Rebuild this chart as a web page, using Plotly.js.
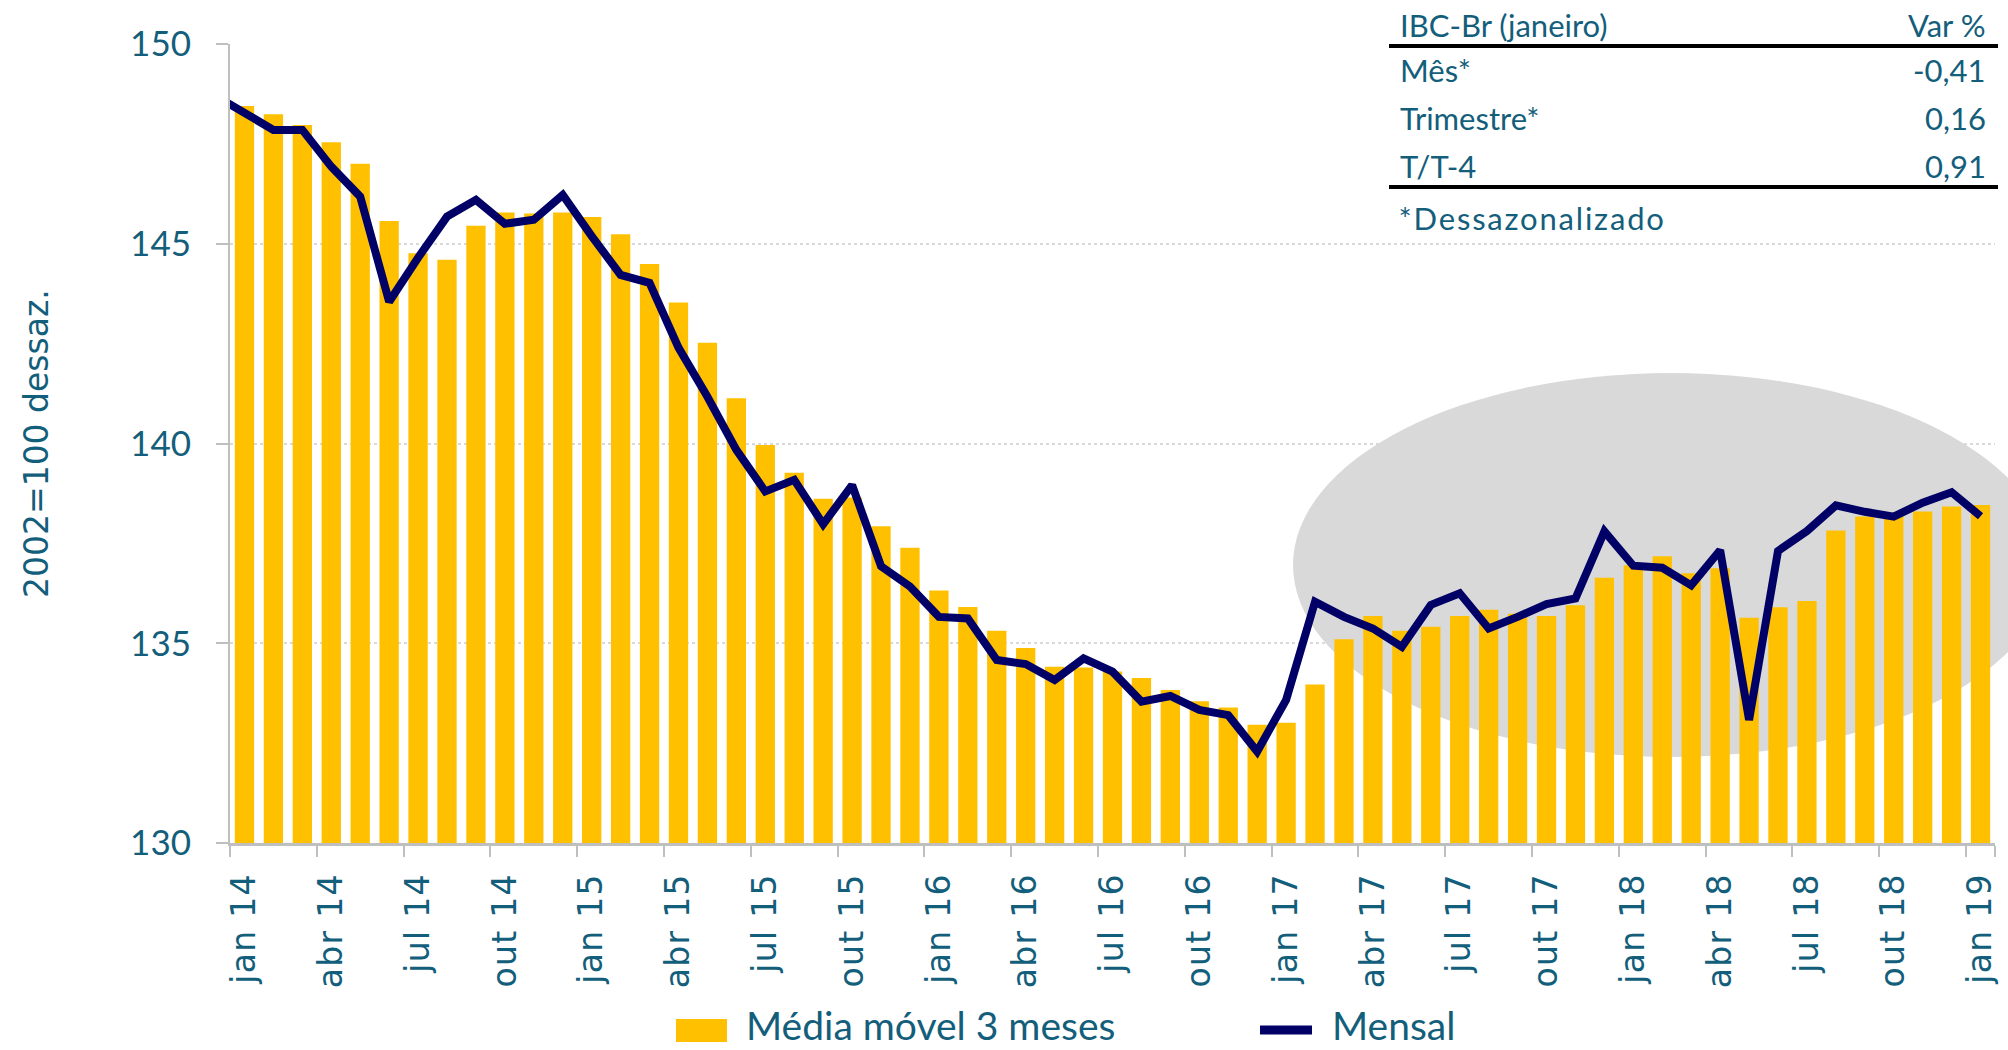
<!DOCTYPE html>
<html>
<head>
<meta charset="utf-8">
<script src="https://cdn.plot.ly/plotly-3.0.1.min.js"></script>
<style>
html, body { margin: 0; padding: 0; background: #ffffff; }
#chart { width: 2008px; height: 1050px; }
.xtick text { letter-spacing: 1.3px; }
.annotation[data-index="8"] text { letter-spacing: 1.8px; }
</style>
</head>
<body>
<div id="chart"></div>
<script>
// Months (line series starts one month before the visible window)
const months = [
  'dez 13',
  'jan 14','fev 14','mar 14','abr 14','mai 14','jun 14','jul 14','ago 14','set 14','out 14','nov 14','dez 14',
  'jan 15','fev 15','mar 15','abr 15','mai 15','jun 15','jul 15','ago 15','set 15','out 15','nov 15','dez 15',
  'jan 16','fev 16','mar 16','abr 16','mai 16','jun 16','jul 16','ago 16','set 16','out 16','nov 16','dez 16',
  'jan 17','fev 17','mar 17','abr 17','mai 17','jun 17','jul 17','ago 17','set 17','out 17','nov 17','dez 17',
  'jan 18','fev 18','mar 18','abr 18','mai 18','jun 18','jul 18','ago 18','set 18','out 18','nov 18','dez 18',
  'jan 19'
];

// Mensal (IBC-Br, 2002=100, dessaz.)
const mensal = [
  148.7,
  148.28, 147.85, 147.85, 146.93, 146.18, 143.55, 144.65, 145.68, 146.10, 145.50, 145.60, 146.22,
  145.19, 144.22, 144.02, 142.40, 141.17, 139.84, 138.80, 139.09, 137.98, 138.96, 136.93, 136.42,
  135.66, 135.62, 134.58, 134.48, 134.08, 134.62, 134.29, 133.54, 133.68, 133.33, 133.20, 132.29,
  133.58, 136.04, 135.66, 135.37, 134.91, 135.96, 136.25, 135.37, 135.66, 135.98, 136.12, 137.80,
  136.94, 136.89, 136.45, 137.33, 133.08, 137.31, 137.81, 138.45, 138.29, 138.17, 138.52, 138.78,
  138.18
];

// Média móvel 3 meses (jan 14 .. jan 19)
const barMonths = months.slice(1);
const mediaMovel = [
  148.45, 148.24, 147.97, 147.54, 147.00, 145.57, 144.76, 144.60, 145.45, 145.78, 145.76, 145.78,
  145.67, 145.24, 144.49, 143.53, 142.52, 141.13, 139.96, 139.27, 138.62, 138.65, 137.93, 137.39,
  136.32, 135.91, 135.31, 134.88, 134.41, 134.39, 134.29, 134.13, 133.83, 133.55, 133.39, 132.96,
  133.01, 133.97, 135.10, 135.68, 135.31, 135.41, 135.68, 135.84, 135.74, 135.68, 135.95, 136.64,
  136.95, 137.18, 136.75, 136.88, 135.64, 135.90, 136.06, 137.82, 138.17, 138.20, 138.30, 138.42,
  138.46
];

// Tick labels on the x axis
const tickLabels = [
  'jan 14','abr 14','jul 14','out 14','jan 15','abr 15','jul 15','out 15',
  'jan 16','abr 16','jul 16','out 16','jan 17','abr 17','jul 17','out 17',
  'jan 18','abr 18','jul 18','out 18','jan 19'
];
const yTicks = [130, 135, 140, 145, 150];

// Summary table
const tableHeader = ['IBC-Br (janeiro)', 'Var %'];
const tableLabels = ['Mês*', 'Trimestre*', 'T/T-4'];
const tableValues = ['-0,41', '0,16', '0,91'];
const tableNote = '*Dessazonalizado';

const seriesNames = ['Média móvel 3 meses', 'Mensal'];

const TEAL = '#135e7b';
const NAVY = '#000066';
const YELLOW = '#ffc000';

const traces = [
  {
    type: 'bar',
    name: seriesNames[0],
    x: barMonths,
    y: mediaMovel,
    marker: { color: YELLOW, line: { width: 0 } },
    hoverinfo: 'x+y'
  },
  {
    type: 'scatter',
    mode: 'lines',
    name: seriesNames[1],
    x: months,
    y: mensal,
    line: { color: NAVY, width: 8 },
    hoverinfo: 'x+y'
  }
];

// helpers: pixel -> paper
const L = 230, T = 44, W = 1765, H = 799;
const px = v => (v - L) / W;
const py = v => (T + H - v) / H;

const annotations = [];
const tableFont = { family: 'Lato, Open Sans, sans-serif', size: 31, color: TEAL };
annotations.push({ xref: 'paper', yref: 'paper', x: px(1398), y: py(25), xanchor: 'left', yanchor: 'middle', text: tableHeader[0], showarrow: false, font: tableFont });
annotations.push({ xref: 'paper', yref: 'paper', x: px(1988), y: py(25), xanchor: 'right', yanchor: 'middle', text: tableHeader[1], showarrow: false, font: tableFont });
const rowY = [70, 118, 166];
tableLabels.forEach((lab, i) => {
  annotations.push({ xref: 'paper', yref: 'paper', x: px(1398), y: py(rowY[i]), xanchor: 'left', yanchor: 'middle', text: lab, showarrow: false, font: tableFont });
  annotations.push({ xref: 'paper', yref: 'paper', x: px(1988), y: py(rowY[i]), xanchor: 'right', yanchor: 'middle', text: tableValues[i], showarrow: false, font: tableFont });
});
// index 8 (letter-spaced via CSS, which widens it symmetrically, so shift right)
annotations.push({ xref: 'paper', yref: 'paper', x: px(1411), y: py(218), xanchor: 'left', yanchor: 'middle', text: tableNote, showarrow: false, font: tableFont });

// y axis title
annotations.push({ xref: 'paper', yref: 'paper', x: px(36), y: py(444), xanchor: 'center', yanchor: 'middle', textangle: -90,
  text: '2002=100 dessaz.', showarrow: false, font: { family: 'DejaVu Sans, sans-serif', size: 33, color: TEAL } });

// legend (manual)
const legFont = { family: 'Lato, Open Sans, sans-serif', size: 39, color: TEAL };
annotations.push({ xref: 'paper', yref: 'paper', x: px(744), y: py(1049.5), xanchor: 'left', yanchor: 'bottom', text: seriesNames[0], showarrow: false, font: legFont });
annotations.push({ xref: 'paper', yref: 'paper', x: px(1330), y: py(1049.5), xanchor: 'left', yanchor: 'bottom', text: seriesNames[1], showarrow: false, font: legFont });

const shapes = [
  // highlight ellipse
  { type: 'circle', xref: 'paper', yref: 'paper', x0: px(1293), x1: px(2049), y0: py(757), y1: py(373),
    fillcolor: '#d9d9d9', line: { width: 0 }, layer: 'below' },
  // table rules
  { type: 'line', xref: 'paper', yref: 'paper', x0: px(1389), x1: px(1998), y0: py(46), y1: py(46), line: { color: '#000000', width: 4 } },
  { type: 'line', xref: 'paper', yref: 'paper', x0: px(1389), x1: px(1998), y0: py(187), y1: py(187), line: { color: '#000000', width: 4 } },
  // legend symbols
  { type: 'rect', xref: 'paper', yref: 'paper', x0: px(676), x1: px(727), y0: py(1042), y1: py(1019), fillcolor: YELLOW, line: { width: 0 } },
  { type: 'line', xref: 'paper', yref: 'paper', x0: px(1260), x1: px(1312), y0: py(1030), y1: py(1030), line: { color: NAVY, width: 9 } }
];

const layout = {
  width: 2008,
  height: 1050,
  margin: { l: 230, r: 13, t: 44, b: 207, pad: 0 },
  paper_bgcolor: '#ffffff',
  plot_bgcolor: 'rgba(0,0,0,0)',
  showlegend: false,
  bargap: 0.333,
  font: { family: 'Lato, Open Sans, sans-serif', color: TEAL },
  xaxis: {
    type: 'category',
    categoryorder: 'array',
    categoryarray: months,
    range: [0.5, 61.5],
    tickmode: 'array',
    tickvals: tickLabels,
    ticktext: tickLabels,
    tickson: 'boundaries',
    ticks: 'outside',
    ticklen: 11,
    tickwidth: 2,
    tickcolor: '#bfbfbf',
    tickangle: -90,
    ticklabelstandoff: 14,
    tickfont: { family: 'DejaVu Sans, sans-serif', size: 33, color: TEAL },
    showline: true,
    linecolor: '#bfbfbf',
    linewidth: 3,
    showgrid: false,
    zeroline: false,
    fixedrange: true
  },
  yaxis: {
    range: [130, 150],
    tickmode: 'array',
    tickvals: yTicks,
    ticktext: yTicks.map(String),
    ticks: 'outside',
    ticklen: 12,
    tickwidth: 2,
    tickcolor: '#bfbfbf',
    ticklabelstandoff: 18,
    tickfont: { family: 'Lato, Open Sans, sans-serif', size: 35, color: TEAL },
    showline: true,
    linecolor: '#bfbfbf',
    linewidth: 2,
    showgrid: true,
    gridcolor: '#d9d9d9',
    gridwidth: 2,
    griddash: 'dot',
    zeroline: false,
    fixedrange: true
  },
  shapes: shapes,
  annotations: annotations
};

Plotly.newPlot('chart', traces, layout, { displayModeBar: false, staticPlot: true });
</script>
</body>
</html>
